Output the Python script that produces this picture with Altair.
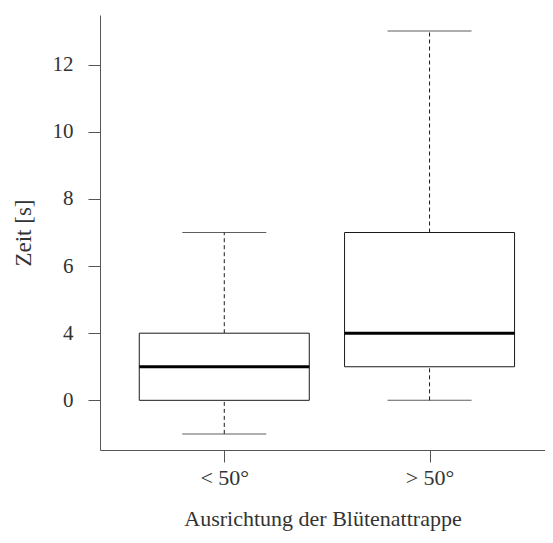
import altair as alt
import pandas as pd

groups = ["< 50°", "> 50°"]
positions = [1, 2]
whisker_low = [1, 2]
q1 = [2, 3]
median = [3, 4]
q3 = [4, 7]
whisker_high = [7, 13]

y_tick_values = [2, 4, 6, 8, 10, 12]
y_tick_labels = ["0", "4", "6", "8", "10", "12"]

df = pd.DataFrame({
    "group": groups, "pos": positions, "lo": whisker_low, "q1": q1,
    "med": median, "q3": q3, "hi": whisker_high,
})

y_label_expr = " : ".join(
    [f"datum.value == {v} ? '{l}'" for v, l in zip(y_tick_values, y_tick_labels)] + ["datum.label"]
)
x_label_expr = " : ".join(
    [f"datum.value == {p} ? '{g}'" for p, g in zip(positions, groups)] + ["''"]
)

FONT = "Liberation Serif"
INK = "#1a1a1a"
TXT = "#333333"

x_enc = alt.X("pos:Q", scale=alt.Scale(domain=[0.419, 2.538], nice=False, zero=False),
              axis=alt.Axis(values=positions, labelExpr=x_label_expr, title="Ausrichtung der Blütenattrappe",
                            grid=False, tickSize=12, labelPadding=5, titlePadding=20,
                            labelFontSize=22, titleFontSize=22, labelFont=FONT, titleFont=FONT,
                            labelColor=TXT, titleColor=TXT, domainColor="#555", tickColor="#555",
                            titleFontWeight="normal"))
y_scale = alt.Scale(domain=[0.52, 13.48], nice=False, zero=False)
y_enc = alt.Y("lo:Q", scale=y_scale,
              axis=alt.Axis(values=y_tick_values, labelExpr=y_label_expr, title="Zeit [s]",
                            grid=False, tickSize=12, labelPadding=15, titlePadding=17,
                            labelFontSize=21, titleFontSize=23, labelFont=FONT, titleFont=FONT,
                            labelColor=TXT, titleColor=TXT, domainColor="#555", tickColor="#555",
                            titleFontWeight="normal"))

base = alt.Chart(df)

w_low = base.mark_rule(color=INK, strokeDash=[4, 3], strokeWidth=1).encode(x=x_enc, y=y_enc, y2="q1:Q")
w_high = base.mark_rule(color=INK, strokeDash=[4, 3], strokeWidth=1).encode(
    x="pos:Q", y=alt.Y("q3:Q", scale=y_scale), y2="hi:Q")
cap_low = base.mark_tick(color=INK, thickness=1, size=84, orient="horizontal").encode(
    x="pos:Q", y=alt.Y("lo:Q", scale=y_scale))
cap_high = base.mark_tick(color=INK, thickness=1, size=84, orient="horizontal").encode(
    x="pos:Q", y=alt.Y("hi:Q", scale=y_scale))
box = base.mark_bar(size=170, fill="white", stroke=INK, strokeWidth=1).encode(
    x="pos:Q", y=alt.Y("q1:Q", scale=y_scale), y2="q3:Q")
med = base.mark_tick(color="#000000", thickness=3, size=170, orient="horizontal", opacity=1).encode(
    x="pos:Q", y=alt.Y("med:Q", scale=y_scale))

chart = alt.layer(w_low, w_high, cap_low, cap_high, box, med).properties(
    width=445, height=435,
    autosize=alt.AutoSizeParams(type="none"),
    padding={"left": 92, "top": 7, "right": 0, "bottom": 85},
    background="white",
).configure_view(stroke=None)

chart.save("out.html", embed_options={"renderer": "svg", "actions": False})
